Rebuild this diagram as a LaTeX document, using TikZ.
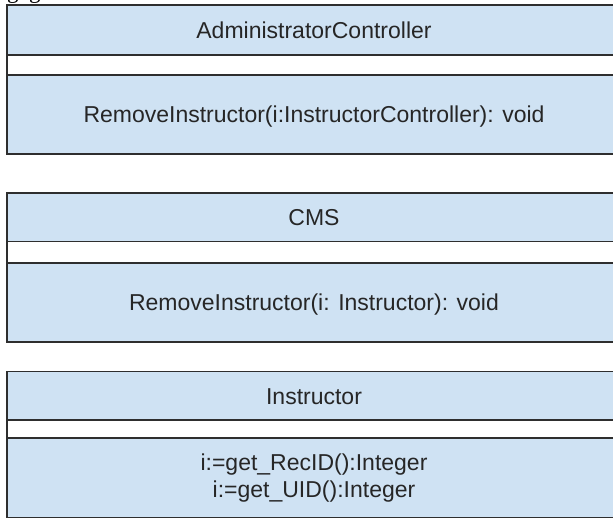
\documentclass[tikz,border=0pt]{standalone}
\usepackage{fontspec}
\setmainfont{Liberation Sans}
\newfontfamily\serifface{Liberation Serif}
\definecolor{classfill}{HTML}{CFE2F3}
\definecolor{classline}{HTML}{2E2E2E}
\definecolor{classtext}{HTML}{262626}
\begin{document}
\begin{tikzpicture}[x=1pt,y=-1pt,
  compartment/.style={draw=classline, line width=1.6pt, fill=classfill,
    minimum width=614pt, inner sep=0pt, text=classtext,
    font=\fontsize{23}{27.5}\selectfont},
  oneline/.style={text height=16.4pt, text depth=0pt},
  attrband/.style={compartment, fill=white},
  captionglyph/.style={font=\serifface\fontsize{23}{27}\selectfont,
    anchor=base west, inner sep=0pt}]
  \useasboundingbox (0,0) rectangle (613,519);
  \clip (0,0) rectangle (613,519);
  % fragments of a caption set above the diagram
  \node[captionglyph] (capA) at (7,-1) {g};
  \node[captionglyph] (capB) at (29,-1) {g};

  % AdministratorController
  \node[compartment, oneline, minimum height=50pt] (hdrA) at (314,30) {AdministratorController};
  \node[attrband, minimum height=20pt] (attA) at (314,65) {};
  \node[compartment, oneline, minimum height=79pt] (opsA) at (314,114.5) {RemoveInstructor(i:InstructorController): void};

  % CMS
  \node[compartment, oneline, minimum height=49pt] (hdrB) at (314,217.2) {CMS};
  \node[attrband, minimum height=21.3pt] (attB) at (314,252.3) {};
  \node[compartment, oneline, minimum height=79.3pt] (opsB) at (314,302.6) {RemoveInstructor(i: Instructor): void};

  % Instructor
  \node[compartment, oneline, minimum height=48.3pt] (hdrC) at (314,395.8) {Instructor};
  \node[attrband, minimum height=18pt] (attC) at (314,429) {};
  \node[compartment, minimum height=79.7pt, align=center] (opsC) at (314,477.8)
    {i:=get\_RecID():Integer\\i:=get\_UID():Integer};
\end{tikzpicture}
\end{document}
